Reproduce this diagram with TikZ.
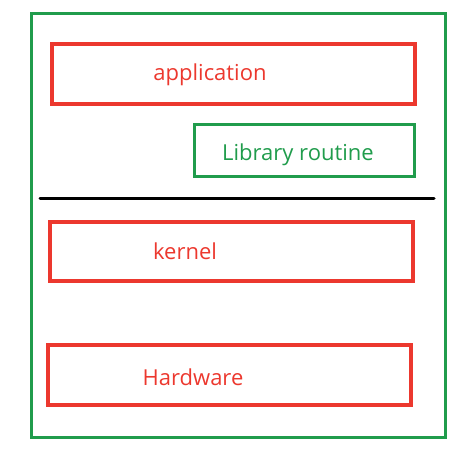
\documentclass[tikz,border=0pt]{standalone}
\usepackage{fontspec}
\setmainfont{Open Sans}
\usepackage{tikz}
\usetikzlibrary{positioning}

\definecolor{layerred}{RGB}{236,56,46}
\definecolor{layergreen}{RGB}{32,156,76}

\begin{document}
\begin{tikzpicture}[x=1pt,y=-1pt,
		layer/.style={draw=layerred,line width=3.5pt},
		lib/.style={draw=layergreen,line width=3pt},
		layertext/.style={anchor=base,text=layerred,font=\fontsize{22}{26}\selectfont},
		libtext/.style={anchor=base,text=layergreen,font=\fontsize{22}{26}\selectfont}]
		
		\useasboundingbox (0,0) rectangle (473,468);
		
		% Whole system
		\draw[layergreen,line width=3pt] (31,14) rectangle (445,437);
		
		% User space
		\draw[layer] (52,44) rectangle (415,104);
		\node[layertext] (app) at (210,81) {application};
		
		\draw[lib] (194,124) rectangle (414,176);
		\node[libtext] (libr) at (298,160) {Library routine};
		
		% Boundary between user and kernel
		\draw[line width=3pt,line cap=round] (40,198) -- (434,198);
		
		% Kernel space
		\draw[layer] (50,222) rectangle (413,281);
		\node[layertext] (kern) at (185,259) {kernel};
		
		\draw[layer] (48,345) rectangle (411,405);
		\node[layertext] (hw) at (193,385) {Hardware};
		
	\end{tikzpicture}
\end{document}
